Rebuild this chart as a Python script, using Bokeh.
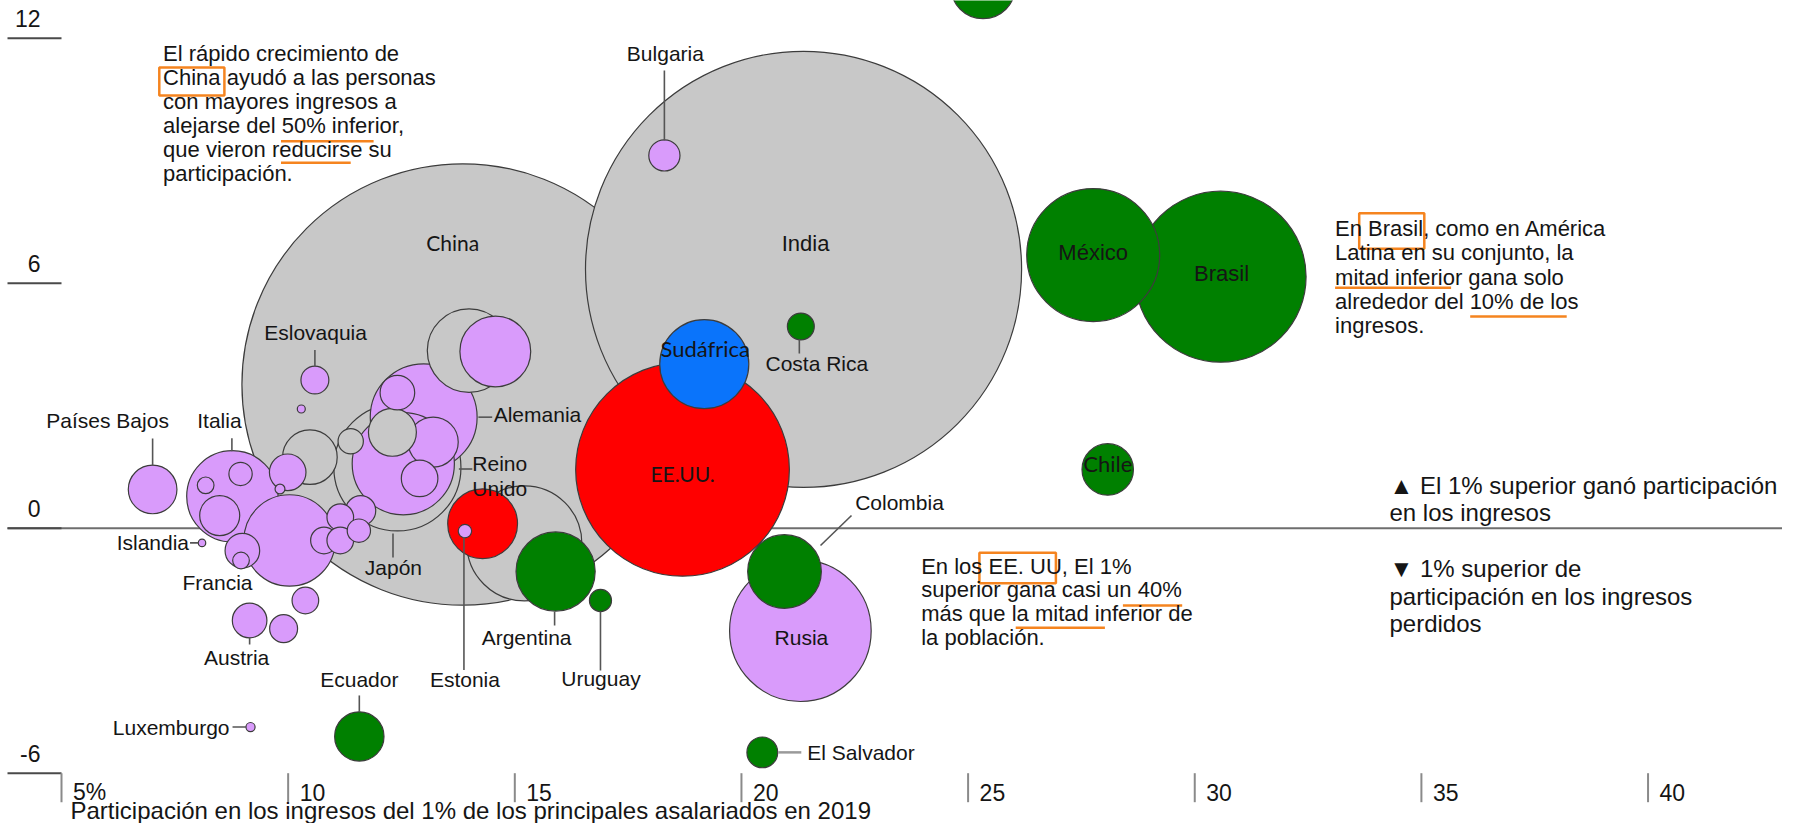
import math
from bokeh.plotting import figure
from bokeh.models import ColumnDataSource, Label, Range1d
from bokeh.embed import file_html
from bokeh.resources import INLINE

# ---------------- data ----------------
paises = ["China", "India", "EE.UU.", "Sudáfrica", "Costa Rica", "Chile", "Colombia", "Rusia",
          "México", "Brasil", "", "Bulgaria", "El Salvador", "Ecuador", "Luxemburgo", "Islandia",
          "Países Bajos", "Italia", "Francia", "Japón", "Alemania", "Reino Unido", "Canadá",
          "Argentina", "Uruguay", "Estonia", "Eslovaquia", "Austria",
          "", "", "", "", "", "", "", "", "", "", "", "", "", "", "", "", "", "", "", "", "", "", "", ""]
region = ["asia", "asia", "norteamerica", "africa", "latam", "latam", "latam", "europa",
          "latam", "latam", "latam", "europa", "latam", "latam", "europa", "europa",
          "europa", "europa", "europa", "asia", "europa", "europa", "norteamerica",
          "latam", "latam", "europa", "europa", "europa",
          "asia", "asia", "asia", "asia", "asia",
          "europa", "europa", "europa", "europa", "europa", "europa", "europa",
          "europa", "europa", "europa", "europa", "europa",
          "europa", "europa", "europa", "europa", "europa", "europa", "europa"]
# share of income of the top 1% in 2019 (%)
top1 = [13.85, 21.37, 18.70, 19.18, 21.31, 28.08, 20.95, 21.30,
        27.76, 30.57, 25.33, 18.30, 20.46, 11.57, 9.17, 8.10,
        7.01, 8.77, 10.03, 12.41, 12.99, 12.54, 14.29,
        15.90, 16.89, 13.90, 10.59, 9.15,
        13.99, 10.48, 11.38, 12.30, 15.21,
        14.57, 12.41, 13.20, 12.90, 9.99, 9.82, 10.29,
        11.15, 11.60, 10.79, 11.15, 11.56,
        8.95, 8.18, 8.49, 8.99, 8.96, 10.38, 9.90]
# change in share (percentage points)
cambio = [3.52, 6.34, 1.44, 4.02, 4.94, 1.44, -1.06, -2.51,
          6.69, 6.16, 13.27, 9.13, -5.49, -5.10, -4.87, -0.36,
          0.95, 0.78, -0.30, 1.49, 2.72, 1.58, 0.11,
          -1.06, -1.77, -0.07, 3.63, -2.26,
          4.35, 1.74, 2.13, 2.35, -0.37,
          4.33, 3.32, 2.11, 1.22, 1.37, 0.96, 2.92,
          0.27, 0.43, -0.30, -0.30, -0.06,
          1.33, 1.05, 0.31, -0.55, -0.79, -1.77, -2.46]
# bubble size value (population, millions)
poblacion = [1400, 1366, 328, 57, 5.2, 19, 39, 144,
             127, 210, 30, 7, 6.8, 17.5, 0.6, 0.4,
             17, 60, 60, 116, 82, 75, 35,
             45, 3.5, 1.3, 5.6, 8.6,
             50, 21.4, 4.6, 16.5, 95,
             36, 8.6, 18, 9.6, 9.6, 0.7, 0.46,
             5.1, 6.5, 5.1, 5.1, 3.9,
             3.9, 2.0, 11.5, 8.6, 2.0, 5.1, 5.6]

x_ticks = [5, 10, 15, 20, 25, 30, 35, 40]
x_tick_labels = ["5%", "10", "15", "20", "25", "30", "35", "40"]
y_ticks = [-6, 0, 6, 12]
y_tick_labels = ["-6", "0", "6", "12"]
titulo_x = "Participación en los ingresos del 1% de los principales asalariados en 2019"

nota_china = ["El rápido crecimiento de", "China ayudó a las personas", "con mayores ingresos a",
              "alejarse del 50% inferior,", "que vieron reducirse su", "participación."]
nota_brasil = ["En Brasil, como en América", "Latina en su conjunto, la", "mitad inferior gana solo",
               "alrededor del 10% de los", "ingresos."]
nota_eeuu = ["En los EE. UU, El 1%", "superior gana casi un 40%", "más que la mitad inferior de",
             "la población."]
leyenda_sube = ["▲ El 1% superior ganó participación", "en los ingresos"]
leyenda_baja = ["▼ 1% superior de", "participación en los ingresos", "perdidos"]

colores_region = {"asia": "#c8c8c8", "europa": "#d99bfb", "norteamerica": "#ff0000",
                  "latam": "#008000", "africa": "#0a74fb"}

# ---------------- layout ----------------
W, H = 1782, 823
PXX, PXY = 45.33, 40.83          # pixels per data unit
X_PIX_5, Y_PIX_M6 = 61.0, 772.7  # where x=5 and y=-6 sit on the canvas
x_start = 5 - X_PIX_5 / PXX
x_end = x_start + W / PXX
y_end = -6 + Y_PIX_M6 / PXY
y_start = y_end - H / PXY
K = 5.9  # px of radius per sqrt(size value)
TXT = "#151515"
FONT = "Liberation Sans"


def rx(px):
    return 5 + (px - X_PIX_5) / PXX


def ry(py):
    return -6 + (Y_PIX_M6 - py) / PXY


p = figure(width=W, height=H, x_range=Range1d(x_start, x_end), y_range=Range1d(y_start, y_end),
           output_backend="svg", toolbar_location=None, x_axis_location=None, y_axis_location=None,
           min_border=0)
p.outline_line_color = None
p.grid.visible = False
p.background_fill_color = "white"
p.border_fill_color = "white"

# ---------------- axes (ticks from tick arrays) ----------------
x_axis_pos = min(y_ticks)
y_axis_pos = min(x_ticks)
TICK_Y_LEN = 54 / PXX
TICK_X_LEN = 29 / PXY
# zero line
p.segment(x0=[y_axis_pos - TICK_Y_LEN], x1=[x_end], y0=[0], y1=[0], line_color="#6e6e6e", line_width=2)
p.segment(x0=[y_axis_pos - TICK_Y_LEN] * len(y_ticks), x1=[y_axis_pos] * len(y_ticks),
          y0=y_ticks, y1=y_ticks, line_color="#4a4a4a", line_width=2)
p.segment(x0=x_ticks, x1=x_ticks, y0=[x_axis_pos] * len(x_ticks),
          y1=[x_axis_pos - TICK_X_LEN] * len(x_ticks), line_color="#8a8a8a", line_width=2)

for t, lab in zip(x_ticks, x_tick_labels):
    p.add_layout(Label(x=t + 11.5 / PXX, y=x_axis_pos - 19 / PXY, text=lab, text_align="left",
                       text_baseline="middle", text_font=FONT, text_font_size="23px", text_color=TXT))
for t, lab in zip(y_ticks, y_tick_labels):
    p.add_layout(Label(x=y_axis_pos - 21 / PXX, y=t + 20 / PXY, text=lab, text_align="right",
                       text_baseline="middle", text_font=FONT, text_font_size="23px", text_color=TXT))
p.add_layout(Label(x=y_axis_pos + 9 / PXX, y=x_axis_pos - 37 / PXY, text=titulo_x, text_align="left",
                   text_baseline="middle", text_font=FONT, text_font_size="24px", text_color=TXT))

# ---------------- bubbles ----------------
order = sorted(range(len(paises)), key=lambda i: -poblacion[i])
src = ColumnDataSource(dict(
    x=[top1[i] for i in order],
    y=[cambio[i] for i in order],
    d=[2 * K * math.sqrt(poblacion[i]) for i in order],
    c=[colores_region[region[i]] for i in order],
))
p.scatter("x", "y", size="d", source=src, marker="circle", fill_color="c",
          line_color="#3c3c3c", line_width=1.2)

# ---------------- country labels (offsets in px from bubble centre) ----------------
etiquetas = {
    "China": dict(off=(-10, -142), align="center", font="Lato", size="21px"),
    "India": dict(off=(2, -26), align="center", size="22px"),
    "EE.UU.": dict(off=(0, 4), align="center", font="Lato", size="21px"),
    "Sudáfrica": dict(off=(1, -16), align="center", font="Lato", size="22px"),
    "Chile": dict(off=(0, -6), align="center", font="Lato", size="22px"),
    "Rusia": dict(off=(1, 7), align="center", size="21px"),
    "México": dict(off=(0, -3), align="center", size="22px"),
    "Brasil": dict(off=(1, -3), align="center", size="22px"),
    "Costa Rica": dict(off=(16, 37), align="center", lead=(-1.5, 13, -1.5, 27)),
    "Colombia": dict(off=(115, -69), align="center", lead=(67, -56, 36, -26)),
    "Bulgaria": dict(off=(1, -102), align="center", lead=(0, -85, 0, -15)),
    "El Salvador": dict(off=(45, 0), align="left", lead=(16, 0, 39, 0), light=True),
    "Ecuador": dict(off=(0, -57), align="center", lead=(0, -41, 0, -24.5)),
    "Luxemburgo": dict(off=(-21, 0), align="right", lead=(-18, 0, -4.5, 0)),
    "Islandia": dict(off=(-13, 0), align="right", lead=(-12, 0, -3.5, 0)),
    "Países Bajos": dict(off=(-45, -69), align="center", lead=(0, -51, 0, -24)),
    "Italia": dict(off=(-13, -76), align="center", lead=(-0.5, -58, -0.5, -45)),
    "Francia": dict(off=(-72, 42), align="center"),
    "Japón": dict(off=(-4, 100), align="center", lead=(-4.4, 66, -4.4, 90)),
    "Alemania": dict(off=(70, -3), align="left", lead=(54.7, 0, 68.5, 0)),
    "Reino Unido": dict(off=(69, 0), align="left", lead=(55.6, 5.3, 69, 5.3), lines=["Reino", "Unido"]),
    "Argentina": dict(off=(-29, 66), align="center", lead=(-1, 40, -1, 54)),
    "Uruguay": dict(off=(0.5, 78), align="center", lead=(0, 11, 0, 70)),
    "Estonia": dict(off=(0, 148), align="center", lead=(-1, 6, -1, 139)),
    "Eslovaquia": dict(off=(0.7, -47.6), align="center", lead=(0, -30, 0, -14)),
    "Austria": dict(off=(-13, 37), align="center", lead=(0, 17, 0, 24)),
}

lead_dark = dict(x0=[], y0=[], x1=[], y1=[])
lead_light = dict(x0=[], y0=[], x1=[], y1=[])
for name, cfg in etiquetas.items():
    i = paises.index(name)
    cx, cy = top1[i], cambio[i]
    dx, dy = cfg["off"]
    lines = cfg.get("lines", [name])
    for k, line in enumerate(lines):
        p.add_layout(Label(x=cx + dx / PXX, y=cy - (dy + 24.5 * k) / PXY, text=line,
                           text_align=cfg["align"], text_baseline="middle",
                           text_font=cfg.get("font", FONT), text_font_size=cfg.get("size", "21px"),
                           text_color=TXT))
    if "lead" in cfg:
        a, b, c, d = cfg["lead"]
        tgt = lead_light if cfg.get("light") else lead_dark
        tgt["x0"].append(cx + a / PXX)
        tgt["y0"].append(cy - b / PXY)
        tgt["x1"].append(cx + c / PXX)
        tgt["y1"].append(cy - d / PXY)

p.segment("x0", "y0", "x1", "y1", source=ColumnDataSource(lead_dark), line_color="#555555", line_width=1.6)
p.segment("x0", "y0", "x1", "y1", source=ColumnDataSource(lead_light), line_color="#9a9a9a", line_width=2.5)


# ---------------- notes ----------------
def nota(lines, left, top, step, size):
    for k, line in enumerate(lines):
        p.add_layout(Label(x=rx(left), y=ry(top + k * step), text=line, text_align="left",
                           text_baseline="middle", text_font=FONT, text_font_size=size, text_color=TXT))


nota(nota_china, 162.6, 53.3, 23.9, "22px")
nota(nota_brasil, 1334.6, 228.3, 24.1, "22px")
nota(nota_eeuu, 920.7, 565.7, 23.7, "22px")
nota(leyenda_sube, 1389.0, 485.0, 27.3, "24px")
nota(leyenda_baja, 1389.0, 568.3, 27.5, "24px")

# orange highlight marks on the notes
cajas = [(158.8, 223.9, 67.0, 95.0), (1358.7, 1423.8, 212.7, 248.3), (978.9, 1055.4, 552.3, 582.7)]
subrayados = [(280.5, 373.1, 140.7), (280.5, 350.2, 162.3), (1334.6, 1450.6, 287.3),
              (1469.7, 1566.2, 316.0), (1122.4, 1181.7, 605.0), (1015.2, 1104.4, 627.3)]
NAR = "#f5841f"
p.quad(left=[rx(b[0]) for b in cajas], right=[rx(b[1]) for b in cajas],
       top=[ry(b[2]) for b in cajas], bottom=[ry(b[3]) for b in cajas],
       fill_color=None, line_color=NAR, line_width=2.5)
p.segment(x0=[rx(s[0]) for s in subrayados], x1=[rx(s[1]) for s in subrayados],
          y0=[ry(s[2]) for s in subrayados], y1=[ry(s[2]) for s in subrayados],
          line_color=NAR, line_width=2.5)

open("out.html", "w").write(file_html(p, INLINE))
